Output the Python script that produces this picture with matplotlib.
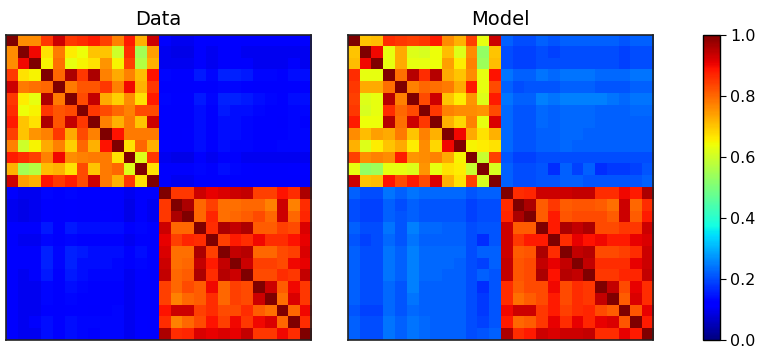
import matplotlib
matplotlib.use("Agg")
import matplotlib.pyplot as plt
import numpy as np

# two groups of 13 variables each; correlation blocks
DATA_A = [
    [1.00, 0.76, 0.76, 0.85, 0.93, 0.85, 0.86, 0.88, 0.84, 0.77, 0.88, 0.72, 0.93],
    [0.76, 1.00, 0.90, 0.67, 0.78, 0.66, 0.64, 0.70, 0.70, 0.60, 0.86, 0.55, 0.74],
    [0.76, 0.90, 1.00, 0.65, 0.79, 0.63, 0.65, 0.67, 0.75, 0.65, 0.84, 0.57, 0.72],
    [0.85, 0.67, 0.65, 1.00, 0.80, 0.96, 0.85, 0.96, 0.77, 0.73, 0.77, 0.71, 0.89],
    [0.93, 0.78, 0.79, 0.80, 1.00, 0.78, 0.82, 0.82, 0.85, 0.77, 0.90, 0.72, 0.85],
    [0.85, 0.66, 0.63, 0.96, 0.78, 1.00, 0.83, 0.94, 0.73, 0.69, 0.76, 0.67, 0.88],
    [0.86, 0.64, 0.65, 0.85, 0.82, 0.83, 1.00, 0.85, 0.83, 0.80, 0.77, 0.83, 0.83],
    [0.88, 0.70, 0.67, 0.96, 0.82, 0.94, 0.85, 1.00, 0.77, 0.72, 0.78, 0.70, 0.93],
    [0.84, 0.70, 0.75, 0.77, 0.85, 0.73, 0.83, 0.77, 1.00, 0.89, 0.78, 0.78, 0.78],
    [0.77, 0.60, 0.65, 0.73, 0.77, 0.69, 0.80, 0.72, 0.89, 1.00, 0.67, 0.80, 0.72],
    [0.88, 0.86, 0.84, 0.77, 0.90, 0.76, 0.77, 0.78, 0.78, 0.67, 1.00, 0.62, 0.85],
    [0.72, 0.55, 0.57, 0.71, 0.72, 0.67, 0.83, 0.70, 0.78, 0.80, 0.62, 1.00, 0.67],
    [0.93, 0.74, 0.72, 0.89, 0.85, 0.88, 0.83, 0.93, 0.78, 0.72, 0.85, 0.67, 1.00],
]
DATA_B = [
    [1.00, 0.85, 0.85, 0.93, 0.91, 0.92, 0.93, 0.94, 0.84, 0.84, 0.89, 0.86, 0.96],
    [0.85, 1.00, 0.96, 0.80, 0.84, 0.79, 0.79, 0.80, 0.80, 0.77, 0.93, 0.77, 0.86],
    [0.85, 0.96, 1.00, 0.80, 0.87, 0.79, 0.80, 0.81, 0.83, 0.80, 0.93, 0.80, 0.87],
    [0.93, 0.80, 0.80, 1.00, 0.86, 0.96, 0.94, 0.96, 0.81, 0.81, 0.84, 0.83, 0.92],
    [0.91, 0.84, 0.87, 0.86, 1.00, 0.84, 0.88, 0.86, 0.90, 0.86, 0.86, 0.89, 0.91],
    [0.92, 0.79, 0.79, 0.96, 0.84, 1.00, 0.94, 0.95, 0.80, 0.80, 0.83, 0.84, 0.92],
    [0.93, 0.79, 0.80, 0.94, 0.88, 0.94, 1.00, 0.93, 0.84, 0.84, 0.83, 0.90, 0.91],
    [0.94, 0.80, 0.81, 0.96, 0.86, 0.95, 0.93, 1.00, 0.83, 0.83, 0.86, 0.85, 0.94],
    [0.84, 0.80, 0.83, 0.81, 0.90, 0.80, 0.84, 0.83, 1.00, 0.93, 0.81, 0.90, 0.85],
    [0.84, 0.77, 0.80, 0.81, 0.86, 0.80, 0.84, 0.83, 0.93, 1.00, 0.79, 0.92, 0.85],
    [0.89, 0.93, 0.93, 0.84, 0.86, 0.83, 0.83, 0.86, 0.81, 0.79, 1.00, 0.80, 0.90],
    [0.86, 0.77, 0.80, 0.83, 0.89, 0.84, 0.90, 0.85, 0.90, 0.92, 0.80, 1.00, 0.86],
    [0.96, 0.86, 0.87, 0.92, 0.91, 0.92, 0.91, 0.94, 0.85, 0.85, 0.90, 0.86, 1.00],
]
# rows: group A variables, columns: group B variables
DATA_AB = [
    [0.11, 0.10, 0.10, 0.12, 0.11, 0.12, 0.12, 0.11, 0.11, 0.11, 0.11, 0.11, 0.11],
    [0.10, 0.09, 0.09, 0.11, 0.10, 0.11, 0.11, 0.10, 0.10, 0.10, 0.10, 0.10, 0.10],
    [0.10, 0.10, 0.10, 0.11, 0.10, 0.11, 0.11, 0.11, 0.10, 0.10, 0.10, 0.11, 0.10],
    [0.13, 0.12, 0.12, 0.15, 0.13, 0.16, 0.16, 0.15, 0.13, 0.13, 0.12, 0.14, 0.14],
    [0.11, 0.11, 0.11, 0.12, 0.11, 0.13, 0.13, 0.12, 0.11, 0.11, 0.11, 0.12, 0.12],
    [0.13, 0.12, 0.12, 0.15, 0.13, 0.16, 0.16, 0.15, 0.14, 0.13, 0.12, 0.14, 0.14],
    [0.12, 0.11, 0.11, 0.14, 0.12, 0.15, 0.14, 0.14, 0.13, 0.12, 0.12, 0.13, 0.13],
    [0.12, 0.11, 0.11, 0.14, 0.12, 0.14, 0.14, 0.13, 0.12, 0.12, 0.11, 0.13, 0.12],
    [0.12, 0.11, 0.12, 0.14, 0.12, 0.14, 0.14, 0.13, 0.12, 0.12, 0.12, 0.13, 0.13],
    [0.12, 0.11, 0.11, 0.14, 0.12, 0.14, 0.13, 0.13, 0.12, 0.12, 0.13, 0.13, 0.13],
    [0.10, 0.09, 0.09, 0.11, 0.10, 0.11, 0.11, 0.10, 0.10, 0.10, 0.10, 0.10, 0.10],
    [0.11, 0.11, 0.11, 0.13, 0.11, 0.14, 0.13, 0.12, 0.11, 0.11, 0.11, 0.12, 0.12],
    [0.11, 0.10, 0.10, 0.12, 0.11, 0.12, 0.12, 0.11, 0.11, 0.11, 0.11, 0.11, 0.11],
]

MODEL_A = [
    [1.00, 0.70, 0.71, 0.86, 0.85, 0.84, 0.85, 0.88, 0.76, 0.72, 0.84, 0.63, 0.93],
    [0.70, 1.00, 0.90, 0.63, 0.73, 0.62, 0.61, 0.64, 0.71, 0.62, 0.76, 0.53, 0.70],
    [0.71, 0.90, 1.00, 0.63, 0.73, 0.63, 0.63, 0.64, 0.74, 0.66, 0.77, 0.54, 0.71],
    [0.86, 0.63, 0.63, 1.00, 0.79, 0.95, 0.86, 0.95, 0.73, 0.70, 0.76, 0.63, 0.89],
    [0.85, 0.73, 0.73, 0.79, 1.00, 0.77, 0.80, 0.79, 0.78, 0.73, 0.88, 0.63, 0.83],
    [0.84, 0.62, 0.63, 0.95, 0.77, 1.00, 0.83, 0.93, 0.70, 0.66, 0.75, 0.62, 0.88],
    [0.85, 0.61, 0.63, 0.86, 0.80, 0.83, 1.00, 0.85, 0.77, 0.76, 0.76, 0.75, 0.83],
    [0.88, 0.64, 0.64, 0.95, 0.79, 0.93, 0.85, 1.00, 0.72, 0.68, 0.77, 0.63, 0.92],
    [0.76, 0.71, 0.74, 0.73, 0.78, 0.70, 0.77, 0.72, 1.00, 0.90, 0.73, 0.67, 0.72],
    [0.72, 0.62, 0.66, 0.70, 0.73, 0.66, 0.76, 0.68, 0.90, 1.00, 0.65, 0.66, 0.67],
    [0.84, 0.76, 0.77, 0.76, 0.88, 0.75, 0.76, 0.77, 0.73, 0.65, 1.00, 0.59, 0.84],
    [0.63, 0.53, 0.54, 0.63, 0.63, 0.62, 0.75, 0.63, 0.67, 0.66, 0.59, 1.00, 0.61],
    [0.93, 0.70, 0.71, 0.89, 0.83, 0.88, 0.83, 0.92, 0.72, 0.67, 0.84, 0.61, 1.00],
]
MODEL_B = [
    [1.00, 0.86, 0.87, 0.93, 0.93, 0.93, 0.94, 0.94, 0.86, 0.86, 0.90, 0.88, 0.96],
    [0.86, 1.00, 0.96, 0.81, 0.85, 0.81, 0.82, 0.82, 0.81, 0.79, 0.93, 0.80, 0.86],
    [0.87, 0.96, 1.00, 0.81, 0.88, 0.82, 0.83, 0.83, 0.83, 0.81, 0.93, 0.81, 0.88],
    [0.93, 0.81, 0.81, 1.00, 0.88, 0.96, 0.94, 0.96, 0.83, 0.83, 0.85, 0.85, 0.93],
    [0.93, 0.85, 0.88, 0.88, 1.00, 0.86, 0.91, 0.89, 0.90, 0.88, 0.88, 0.91, 0.92],
    [0.93, 0.81, 0.82, 0.96, 0.86, 1.00, 0.94, 0.95, 0.83, 0.83, 0.84, 0.86, 0.93],
    [0.94, 0.82, 0.83, 0.94, 0.91, 0.94, 1.00, 0.94, 0.86, 0.86, 0.86, 0.91, 0.93],
    [0.94, 0.82, 0.83, 0.96, 0.89, 0.95, 0.94, 1.00, 0.85, 0.85, 0.87, 0.87, 0.94],
    [0.86, 0.81, 0.83, 0.83, 0.90, 0.83, 0.86, 0.85, 1.00, 0.94, 0.83, 0.91, 0.86],
    [0.86, 0.79, 0.81, 0.83, 0.88, 0.83, 0.86, 0.85, 0.94, 1.00, 0.81, 0.92, 0.86],
    [0.90, 0.93, 0.93, 0.85, 0.88, 0.84, 0.86, 0.87, 0.83, 0.81, 1.00, 0.82, 0.91],
    [0.88, 0.80, 0.81, 0.85, 0.91, 0.86, 0.91, 0.87, 0.91, 0.92, 0.82, 1.00, 0.88],
    [0.96, 0.86, 0.88, 0.93, 0.92, 0.93, 0.93, 0.94, 0.86, 0.86, 0.91, 0.88, 1.00],
]
MODEL_AB = [
    [0.22, 0.20, 0.20, 0.22, 0.21, 0.22, 0.22, 0.22, 0.22, 0.22, 0.21, 0.22, 0.22],
    [0.20, 0.19, 0.19, 0.20, 0.19, 0.20, 0.20, 0.20, 0.20, 0.20, 0.19, 0.20, 0.20],
    [0.20, 0.19, 0.19, 0.20, 0.20, 0.20, 0.20, 0.20, 0.20, 0.20, 0.19, 0.20, 0.20],
    [0.24, 0.22, 0.22, 0.24, 0.23, 0.24, 0.24, 0.24, 0.23, 0.23, 0.23, 0.24, 0.24],
    [0.22, 0.20, 0.21, 0.21, 0.21, 0.22, 0.22, 0.22, 0.21, 0.21, 0.21, 0.22, 0.22],
    [0.24, 0.22, 0.22, 0.25, 0.24, 0.25, 0.25, 0.25, 0.25, 0.24, 0.23, 0.24, 0.24],
    [0.23, 0.21, 0.21, 0.23, 0.22, 0.23, 0.23, 0.23, 0.22, 0.22, 0.22, 0.23, 0.23],
    [0.23, 0.21, 0.21, 0.23, 0.22, 0.23, 0.23, 0.23, 0.22, 0.22, 0.22, 0.22, 0.22],
    [0.23, 0.21, 0.21, 0.22, 0.22, 0.23, 0.23, 0.22, 0.22, 0.22, 0.22, 0.22, 0.22],
    [0.23, 0.21, 0.21, 0.22, 0.22, 0.23, 0.22, 0.22, 0.22, 0.22, 0.22, 0.22, 0.22],
    [0.21, 0.19, 0.19, 0.20, 0.20, 0.20, 0.20, 0.20, 0.20, 0.20, 0.20, 0.20, 0.20],
    [0.22, 0.20, 0.20, 0.21, 0.17, 0.22, 0.19, 0.22, 0.17, 0.18, 0.18, 0.19, 0.21],
    [0.22, 0.20, 0.20, 0.21, 0.21, 0.22, 0.22, 0.21, 0.21, 0.21, 0.21, 0.21, 0.22],
]

TITLES = ["Data", "Model"]
CBAR_TICKS = [0.0, 0.2, 0.4, 0.6, 0.8, 1.0]


def full_matrix(a, b, ab):
    ab = np.array(ab)
    return np.block([[np.array(a), ab], [ab.T, np.array(b)]])


mats = [full_matrix(DATA_A, DATA_B, DATA_AB), full_matrix(MODEL_A, MODEL_B, MODEL_AB)]

fig = plt.figure(figsize=(7.61, 3.49), dpi=100)
BOTTOM, HEIGHT = 0.026, 0.874
lefts = [0.008, 0.4577]
for left, title, m in zip(lefts, TITLES, mats):
    ax = fig.add_axes([left, BOTTOM, 0.401, HEIGHT])
    im = ax.imshow(m, cmap="jet", vmin=0, vmax=1, interpolation="nearest", aspect="auto")
    ax.set_xticks([]); ax.set_yticks([])
    for sp in ax.spines.values():
        sp.set_linewidth(1.2); sp.set_color("#222222")
    ax.set_title(title, fontsize=14, pad=7)

cax = fig.add_axes([0.9242, BOTTOM, 0.0219, HEIGHT])
cb = fig.colorbar(im, cax=cax, ticks=CBAR_TICKS)
cb.ax.tick_params(labelsize=11.5, length=4)
cb.outline.set_linewidth(1.0)

fig.savefig("out.png", dpi=100)
